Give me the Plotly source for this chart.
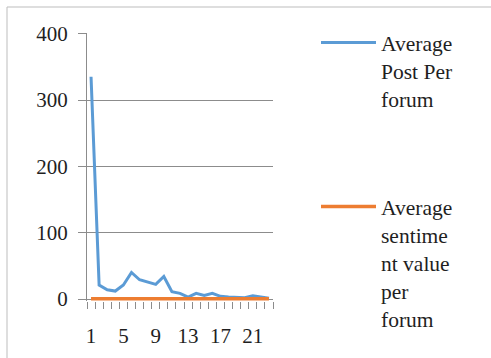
import plotly.graph_objects as go

# ---- data ----
forums = list(range(1, 24))
avg_post_per_forum = [335, 21, 14, 12, 21, 40, 29, 25, 22, 34, 11, 8.5, 3,
                      8.5, 5.5, 8.5, 4, 3, 2, 2, 5, 3, 1]
avg_sentiment_per_forum = [0.4, 0.3, 0.4, 0.3, 0.4, 0.3, 0.4, 0.3, 0.4, 0.3, 0.4, 0.3,
                           0.4, 0.3, 0.4, 0.3, 0.4, 0.3, 0.4, 0.3, 0.4, 0.3, 0.4]
x_tick_labels = [1, 5, 9, 13, 17, 21]
y_tick_values = [0, 100, 200, 300, 400]
series_names = ["Average<br>Post Per<br>forum",
                "Average<br>sentime<br>nt value<br>per<br>forum"]

# ---- layout geometry ----
W, H = 491, 358
L, R, T, B = 87, 218, 33, 57
PW, PH = W - L - R, H - T - B


def px_x(p):
    return (p - L) / PW


def px_y(p):
    return 1 - (p - T) / PH


FONT = "Liberation Serif"
GRID = "#8c8c8c"
TXT = "#1f1f1f"

fig = go.Figure()
fig.add_trace(go.Scatter(x=forums, y=avg_post_per_forum, mode="lines",
                         name=series_names[0],
                         line=dict(color="#5B9BD5", width=3), legend="legend"))
fig.add_trace(go.Scatter(x=forums, y=avg_sentiment_per_forum, mode="lines",
                         name=series_names[1],
                         line=dict(color="#ED7D31", width=3.5), legend="legend2"))

legend_common = dict(font=dict(family=FONT, size=21.5, color=TXT),
                     bgcolor="rgba(0,0,0,0)", xanchor="left", yanchor="top",
                     valign="top", itemwidth=55, tracegroupgap=0)

fig.update_layout(
    width=W, height=H,
    font=dict(family=FONT, color=TXT),
    margin=dict(l=L, r=R, t=T, b=B, pad=0, autoexpand=False),
    paper_bgcolor="white", plot_bgcolor="white",
    showlegend=True,
    legend=dict(x=px_x(316), y=px_y(22), **legend_common),
    legend2=dict(x=px_x(316), y=px_y(186), **legend_common),
    xaxis=dict(range=[0.5, 23.5], tickmode="array", tickvals=x_tick_labels,
               ticktext=[str(v) for v in x_tick_labels],
               ticks="", showgrid=False, showline=False, zeroline=False,
               tickfont=dict(family=FONT, size=21, color=TXT),
               ticklabelstandoff=20,
               minor=dict(tickmode="linear", tick0=0.5, dtick=1, ticks="outside",
                          ticklen=7, tickwidth=1, tickcolor=GRID, showgrid=False)),
    yaxis=dict(range=[-3, 401], tickmode="array", tickvals=y_tick_values,
               showgrid=True, gridcolor=GRID, gridwidth=1,
               ticks="outside", ticklen=8, tickwidth=1, tickcolor=GRID,
               showline=True, linecolor=GRID, linewidth=1, zeroline=False,
               tickfont=dict(family=FONT, size=21, color=TXT),
               ticklabelstandoff=6),
    shapes=[
        dict(type="line", xref="paper", yref="paper", x0=px_x(7), x1=px_x(491),
             y0=px_y(7), y1=px_y(7), line=dict(color="#bdbdbd", width=1)),
        dict(type="line", xref="paper", yref="paper", x0=px_x(7), x1=px_x(7),
             y0=px_y(7), y1=px_y(358), line=dict(color="#bdbdbd", width=1)),
    ],
)

fig.write_html("out.html",
               config={"displayModeBar": False},
               post_script="document.body.style.margin='0';document.body.style.padding='0';")
